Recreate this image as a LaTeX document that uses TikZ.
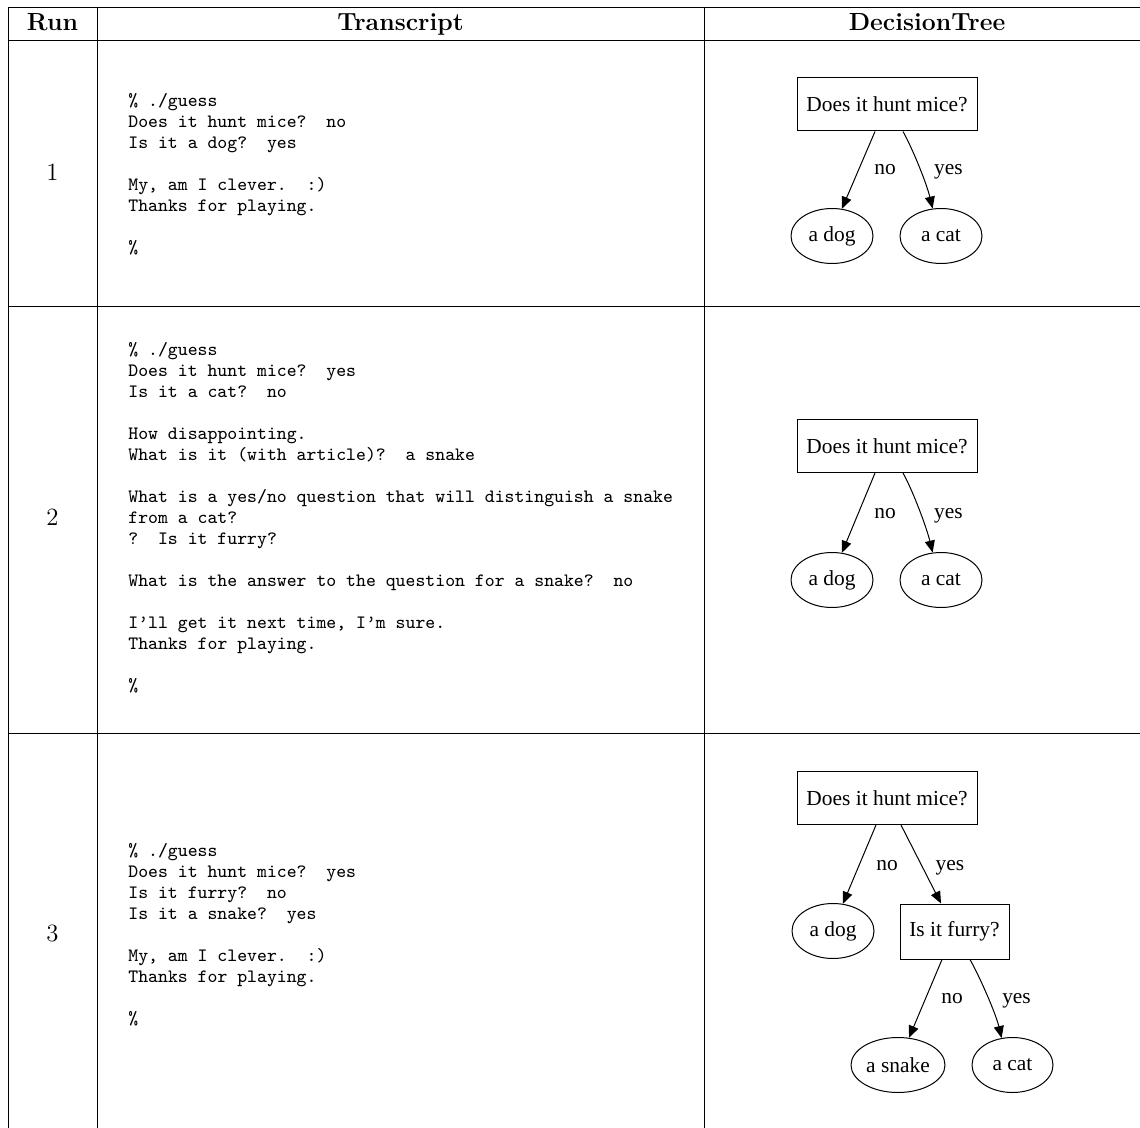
\documentclass[tikz,border=0pt]{standalone}
\usepackage{fontspec}
\newfontfamily\gvfont{Liberation Serif}
\usetikzlibrary{shapes.geometric,arrows.meta}
\begin{document}
\begin{tikzpicture}[x=0.5pt,y=-0.5pt,
  rule/.style={line width=0.45pt},
  hdr/.style={anchor=base, inner sep=0pt, font=\fontsize{12.4}{14}\selectfont\bfseries},
  runno/.style={anchor=base, inner sep=0pt, font=\fontsize{12.4}{14}\selectfont},
  trans/.style={anchor=north west, inner sep=0pt, align=left, font=\fontsize{9.43}{10.5}\selectfont\ttfamily\frenchspacing},
  qbox/.style={draw, line width=0.5pt, rectangle, inner sep=0pt, font=\gvfont\fontsize{10.7}{12}\selectfont, minimum height=26.5pt, minimum width=90pt},
  leaf/.style={draw, line width=0.5pt, ellipse, inner sep=0pt, font=\gvfont\fontsize{10.7}{12}\selectfont, minimum height=27.5pt, minimum width=41pt},
  elabel/.style={anchor=base, inner sep=0pt, font=\gvfont\fontsize{10.7}{12}\selectfont},
  edge/.style={line width=0.5pt, -{Triangle[length=6pt,width=5pt]}}
]
\useasboundingbox (0,0) rectangle (1140,1128);
% table rules
\draw[rule] (8,7) -- (1140,7);
\draw[rule] (8,40) -- (1140,40);
\draw[rule] (8,306) -- (1140,306);
\draw[rule] (8,733) -- (1140,733);
\draw[rule] (8,7) -- (8,1128);
\draw[rule] (97,7) -- (97,1128);
\draw[rule] (704,7) -- (704,1128);
% header
\node[hdr] (hrun) at (52.5,31) {Run};
\node[hdr] (htr) at (400.5,31) {Transcript};
\node[hdr] (hdt) at (927,31) {DecisionTree};
% run numbers
\node[runno] (r1) at (52.5,181) {1};
\node[runno] (r2) at (52.5,525) {2};
\node[runno] (r3) at (52.5,941) {3};
% transcripts
\node[trans] (t1) at (128,93) {\%~./guess\\
Does it hunt mice?~~no\\
Is it a dog?~~yes\\
\mbox{}\\
My, am I clever.~~:)\\
Thanks for playing.\\
\mbox{}\\
\%};
\node[trans] (t2) at (128,342) {\%~./guess\\
Does it hunt mice?~~yes\\
Is it a cat?~~no\\
\mbox{}\\
How disappointing.\\
What is it (with article)?~~a snake\\
\mbox{}\\
What is a yes/no question that will distinguish a snake\\
from a cat?\\
?~~Is it furry?\\
\mbox{}\\
What is the answer to the question for a snake?~~no\\
\mbox{}\\
I’ll get it next time, I’m sure.\\
Thanks for playing.\\
\mbox{}\\
\%};
\node[trans] (t3) at (128,843) {\%~./guess\\
Does it hunt mice?~~yes\\
Is it furry?~~no\\
Is it a snake?~~yes\\
\mbox{}\\
My, am I clever.~~:)\\
Thanks for playing.\\
\mbox{}\\
\%};
% tree 1
\node[qbox] (q1) at (887,104.5) {Does it hunt mice?};
\node[leaf] (d1) at (832,236) {a dog};
\node[leaf] (c1) at (941,236) {a cat};
\draw[edge] ([xshift=-6pt]q1.south) -- (d1.70);
\draw[edge] ([xshift=8pt]q1.south) .. controls +(10,18) and +(-6,-25) .. (c1.107);
\node[elabel] (n1) at (885,175) {no};
\node[elabel] (y1) at (948.5,175) {yes};
% tree 2
\node[qbox] (q2) at (887,446) {Does it hunt mice?};
\node[leaf] (d2) at (832,580) {a dog};
\node[leaf] (c2) at (941,580) {a cat};
\draw[edge] ([xshift=-6pt]q2.south) -- (d2.70);
\draw[edge] ([xshift=8pt]q2.south) .. controls +(10,18) and +(-6,-25) .. (c2.107);
\node[elabel] (n2) at (885,518) {no};
\node[elabel] (y2) at (948.5,518) {yes};
% tree 3
\node[qbox] (q3) at (887,798) {Does it hunt mice?};
\node[leaf] (d3) at (833,931) {a dog};
\node[qbox, minimum width=54.5pt, minimum height=27.5pt] (f3) at (954.5,931.5) {Is it furry?};
\node[leaf, minimum width=47pt] (s3) at (898,1065) {a snake};
\node[leaf, minimum width=40.5pt] (c3) at (1012.5,1065) {a cat};
\draw[edge] ([xshift=-5.5pt]q3.south) -- (d3.70);
\draw[edge] ([xshift=7pt]q3.south) -- ([xshift=-6.75pt]f3.north);
\draw[edge] ([xshift=-6.25pt]f3.south) -- (s3.68);
\draw[edge] ([xshift=7.75pt]f3.south) .. controls +(10,18) and +(-6,-25) .. (c3.112);
\node[elabel] (n3) at (887,870) {no};
\node[elabel] (y3) at (950,870) {yes};
\node[elabel] (n4) at (952,1003) {no};
\node[elabel] (y4) at (1016.5,1003) {yes};
\end{tikzpicture}
\end{document}
